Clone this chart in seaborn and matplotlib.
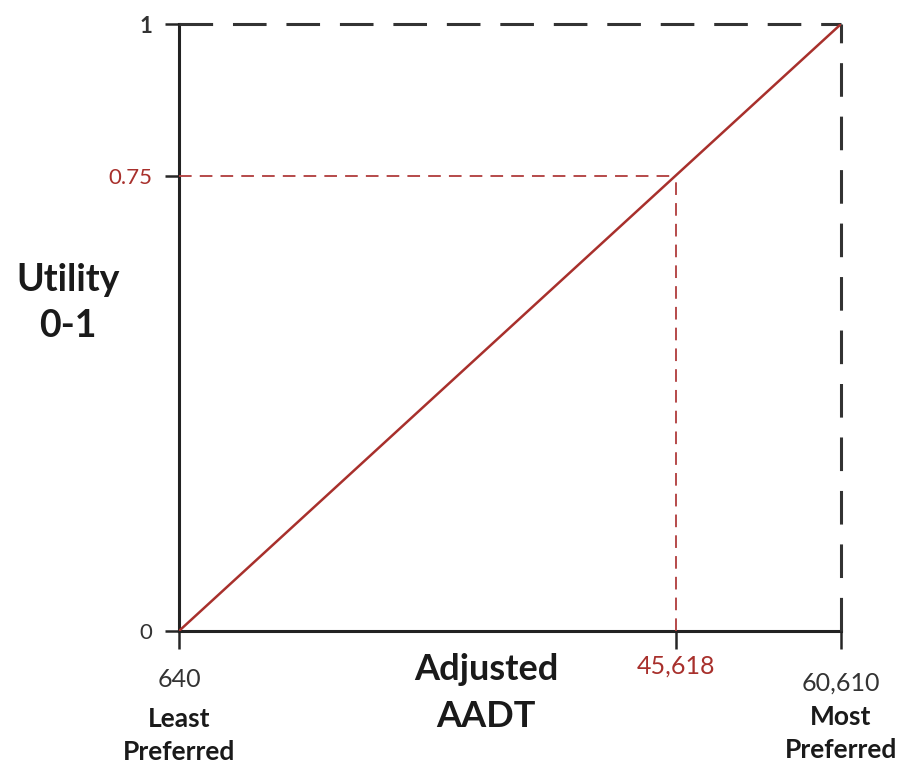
import pandas as pd
import matplotlib.pyplot as plt
import seaborn as sns

# Utility curve for adjusted AADT
aadt = [640, 60610]
utility = [0, 1]
mark_aadt = 45618
mark_utility = 0.75

x_ticks = [640, 45618, 60610]
x_tick_labels = ['640', '45,618', '60,610']
end_notes = ['Least\nPreferred', 'Most\nPreferred']
y_ticks = [0, 0.75, 1]
y_tick_labels = ['0', '0.75', '1']

sns.set_style('white')
plt.rcParams['font.family'] = ['Lato', 'DejaVu Sans']

red = '#a8302c'
dark = '#333333'

fig = plt.figure(figsize=(9.1, 7.65), dpi=100)
ax = fig.add_axes([0.1967, 0.1752, 0.7275, 0.7934])

df = pd.DataFrame({'AADT': aadt, 'Utility': utility})
sns.lineplot(data=df, x='AADT', y='Utility', color=red, linewidth=1.8, ax=ax, zorder=4)
ax.set_xlabel('')
ax.set_ylabel('')

ax.set_xlim(aadt[0], aadt[1])
ax.set_ylim(utility[0], utility[1])

# dashed frame on top and right
ax.plot([aadt[0], aadt[1]], [utility[1], utility[1]], color=dark, lw=2.2,
        dashes=(11, 6.5), clip_on=False, zorder=3)
ax.plot([aadt[1], aadt[1]], [utility[0], utility[1]], color=dark, lw=2.2,
        dashes=(11, 6.5), clip_on=False, zorder=3)

# red guide lines to the 0.75 point
ax.plot([aadt[0], mark_aadt], [mark_utility, mark_utility], color='#b03c3c', lw=1.3,
        dashes=(7, 4.5), clip_on=False, zorder=3)
ax.plot([mark_aadt, mark_aadt], [utility[0], mark_utility], color='#b03c3c', lw=1.3,
        dashes=(7, 4.5), clip_on=False, zorder=3)

for side in ['top', 'right']:
    ax.spines[side].set_visible(False)
for side in ['left', 'bottom']:
    ax.spines[side].set_color('#222222')
    ax.spines[side].set_linewidth(2.2)

# y ticks
ax.set_yticks(y_ticks)
ax.set_yticklabels(y_tick_labels, fontsize=16)
ax.tick_params(axis='y', direction='out', length=10, width=1.8, pad=9, left=True)
for tick, lab in zip(ax.yaxis.get_major_ticks(), ax.get_yticklabels()):
    c = red if lab.get_text() == '0.75' else dark
    tick.tick1line.set_color(c)
    lab.set_color(c)
ax.get_yticklabels()[2].set_fontweight('bold')

# x ticks, labels drawn as annotations for individual offsets
ax.set_xticks(x_ticks)
ax.set_xticklabels([])
ax.tick_params(axis='x', direction='out', length=13, width=1.8, bottom=True)
for tick, v in zip(ax.xaxis.get_major_ticks(), x_ticks):
    tick.tick1line.set_color(red if v == mark_aadt else '#222222')

offsets = [-26.5, -17, -29]
for v, lab, off in zip(x_ticks, x_tick_labels, offsets):
    ax.annotate(lab, xy=(v, 0), xycoords=('data', 'axes fraction'),
                xytext=(0, off), textcoords='offset points', ha='center', va='top',
                fontsize=18, color=red if v == mark_aadt else dark,
                annotation_clip=False)

for v, note, off in zip([aadt[0], aadt[1]], end_notes, [-54.5, -53]):
    ax.annotate(note, xy=(v, 0), xycoords=('data', 'axes fraction'),
                xytext=(0, off), textcoords='offset points', ha='center', va='top',
                fontsize=19, fontweight='bold', color='#1a1a1a', linespacing=1.45,
                annotation_clip=False)

fig.text(0.534, 0.147, 'Adjusted\nAADT', ha='center', va='top', fontsize=26,
         fontweight='bold', color='#1a1a1a', linespacing=1.55)
fig.text(0.0747, 0.604, 'Utility\n0-1', ha='center', va='center', fontsize=27,
         fontweight='bold', color='#1a1a1a', linespacing=1.4)

fig.savefig('out.png', dpi=100)
